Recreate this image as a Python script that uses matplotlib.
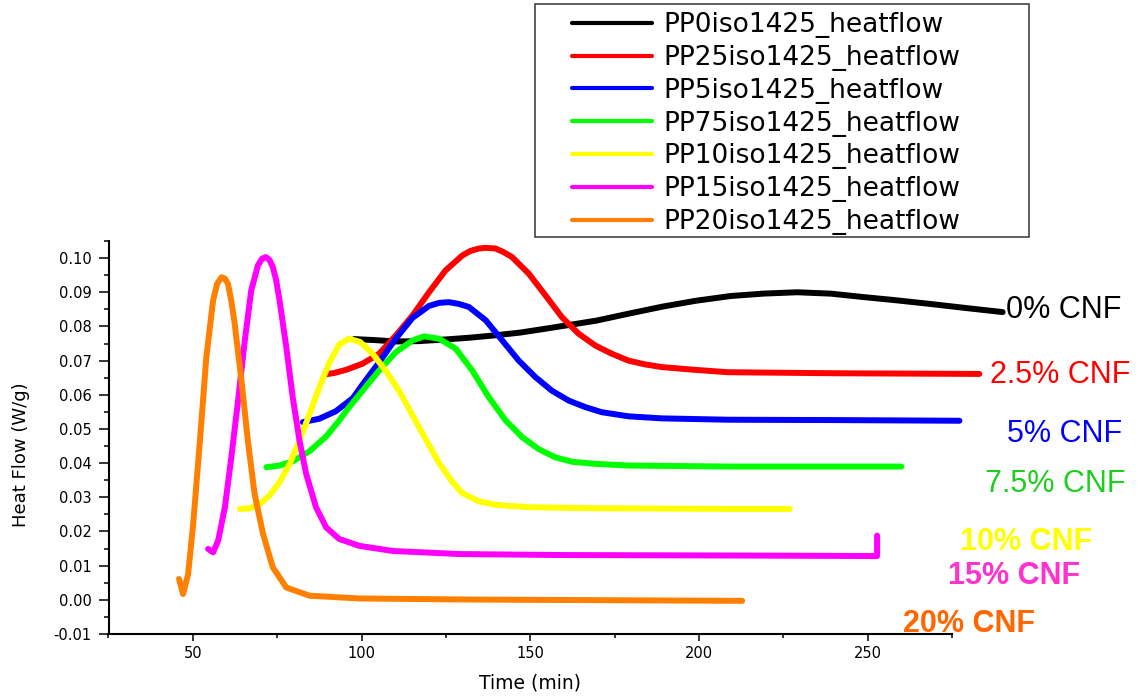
import matplotlib
matplotlib.use("Agg")
import matplotlib.pyplot as plt
from matplotlib.ticker import MultipleLocator, FormatStrFormatter
from matplotlib.patches import Rectangle

plt.rcParams['font.family'] = ['DejaVu Sans']
plt.rcParams['axes.unicode_minus'] = False

# ---- data ----
labels = ["PP0iso1425_heatflow", "PP25iso1425_heatflow", "PP5iso1425_heatflow",
          "PP75iso1425_heatflow", "PP10iso1425_heatflow", "PP15iso1425_heatflow",
          "PP20iso1425_heatflow"]
colors = ["#000000", "#ff0000", "#0000ff", "#00ff00", "#ffff00", "#ff00ff", "#ff8000"]

x0 = [97.8, 104.0, 110.0, 117.0, 125.0, 132.0, 139.6, 147.0, 154.3, 162.0, 169.6, 179.0,
      189.2, 199.0, 209.4, 219.0, 229.1, 239.0, 248.7, 258.0, 268.4, 279.0, 290.0]
y0 = [0.0763, 0.0760, 0.0756, 0.0757, 0.0762, 0.0767, 0.0774, 0.0782, 0.0793, 0.0805,
      0.0817, 0.0837, 0.0858, 0.0875, 0.0889, 0.0896, 0.0900, 0.0896, 0.0886, 0.0877,
      0.0866, 0.0854, 0.0842]

x25 = [89.4, 92.0, 95.4, 100.3, 105.2, 110.2, 115.1, 120.0, 124.9, 129.9, 132.3, 134.8,
       136.7, 139.7, 142.0, 144.6, 149.6, 154.5, 159.4, 164.3, 169.3, 174.2, 179.1, 184.0,
       189.0, 198.8, 208.6, 240.0, 283.1]
y25 = [0.0660, 0.0664, 0.0673, 0.0691, 0.0720, 0.0774, 0.0832, 0.0900, 0.0964, 0.1008,
       0.1021, 0.1028, 0.1030, 0.1028, 0.1018, 0.1003, 0.0954, 0.0891, 0.0827, 0.0779,
       0.0744, 0.0720, 0.0700, 0.0689, 0.0681, 0.0673, 0.0666, 0.0663, 0.0661]

x5 = [82.6, 87.5, 92.4, 97.4, 100.3, 105.2, 110.2, 115.1, 120.0, 123.0, 125.9, 128.8,
      131.8, 136.8, 141.7, 146.6, 151.5, 156.4, 161.4, 166.3, 171.2, 179.1, 189.0, 208.6,
      240.0, 277.2]
y5 = [0.0520, 0.0530, 0.0552, 0.0590, 0.0630, 0.0695, 0.0765, 0.0825, 0.0860, 0.0869,
      0.0871, 0.0866, 0.0857, 0.0818, 0.0759, 0.0700, 0.0652, 0.0612, 0.0583, 0.0564,
      0.0549, 0.0537, 0.0531, 0.0527, 0.0526, 0.0524]

x75 = [71.8, 75.7, 79.6, 84.6, 89.5, 93.0, 96.5, 100.3, 105.2, 110.2, 115.1, 118.5,
       123.0, 127.9, 132.8, 137.7, 142.7, 147.6, 152.5, 157.4, 162.4, 169.2, 179.1,
       208.6, 235.0, 260.0]
y75 = [0.0388, 0.0393, 0.0405, 0.0435, 0.0478, 0.0520, 0.0566, 0.0612, 0.0671, 0.0725,
       0.0759, 0.0771, 0.0764, 0.0735, 0.0671, 0.0593, 0.0525, 0.0476, 0.0441, 0.0417,
       0.0404, 0.0398, 0.0393, 0.0390, 0.0390, 0.0390]

x10 = [63.9, 66.8, 69.8, 72.7, 75.7, 78.7, 81.6, 84.6, 87.5, 90.5, 93.4, 96.2, 99.5,
       103.3, 107.2, 111.2, 115.1, 119.0, 123.0, 126.9, 129.9, 134.8, 139.7, 149.6,
       169.3, 208.6, 226.9]
y10 = [0.0266, 0.0267, 0.0280, 0.0305, 0.0344, 0.0398, 0.0466, 0.0544, 0.0622, 0.0695,
       0.0747, 0.0764, 0.0755, 0.0720, 0.0670, 0.0610, 0.0540, 0.0470, 0.0400, 0.0345,
       0.0312, 0.0288, 0.0278, 0.0271, 0.0268, 0.0266, 0.0266]

x15 = [54.5, 56.0, 57.5, 59.5, 61.4, 63.4, 65.4, 67.3, 69.3, 70.5, 71.6, 72.7, 73.7,
       74.7, 75.7, 77.7, 79.6, 81.6, 83.6, 86.5, 89.5, 93.4, 99.3, 109.2, 128.9, 160.0,
       200.0, 230.0, 252.8, 252.8]
y15 = [0.0149, 0.0139, 0.0173, 0.0271, 0.0417, 0.0583, 0.0759, 0.0905, 0.0979, 0.0998,
       0.1003, 0.0995, 0.0974, 0.0935, 0.0876, 0.0739, 0.0593, 0.0466, 0.0368, 0.0271,
       0.0212, 0.0178, 0.0158, 0.0143, 0.0134, 0.0131, 0.0130, 0.0129, 0.0128, 0.0188]

x20 = [45.9, 47.1, 48.6, 50.1, 52.1, 54.0, 56.0, 57.2, 58.5, 59.5, 60.4, 61.4, 62.4,
       64.4, 66.3, 68.3, 70.8, 73.7, 77.7, 84.6, 99.3, 130.0, 170.0, 212.8]
y20 = [0.0061, 0.0017, 0.0075, 0.0222, 0.0466, 0.0710, 0.0876, 0.0925, 0.0944, 0.0940,
       0.0925, 0.0875, 0.0808, 0.0642, 0.0466, 0.0310, 0.0193, 0.0095, 0.0036, 0.0012,
       0.0004, 0.0001, -0.0001, -0.0003]

series_x = [x0, x25, x5, x75, x10, x15, x20]
series_y = [y0, y25, y5, y75, y10, y15, y20]

annot_text = ["0% CNF", "2.5% CNF", "5% CNF", "7.5% CNF", "10% CNF", "15% CNF", "20% CNF"]
annot_colors = ["#000000", "#ff0000", "#0000ff", "#1ccf1c", "#ffff00", "#ff33cc", "#ff6600"]
annot_bold = [False, False, False, False, True, True, True]
# (left px, baseline px) in the 1146x696 picture
annot_pos = [(1006, 318), (990, 383), (1007, 442), (985, 492), (960, 550), (948, 584), (903, 632)]

W, H = 1146, 696
fig = plt.figure(figsize=(W / 100, H / 100), dpi=100)
ax = fig.add_axes([108.5 / W, 1 - 634 / H, (952 - 108.5) / W, (634 - 241) / H])

for xs, ys, c, lab in zip(series_x, series_y, colors, labels):
    ax.plot(xs, ys, color=c, lw=4.3, label=lab, clip_on=False,
            solid_joinstyle='round', solid_capstyle='round')

ax.set_xlim(25, 275)
ax.set_ylim(-0.01, 0.105)
ax.xaxis.set_major_locator(MultipleLocator(50))
ax.xaxis.set_minor_locator(MultipleLocator(25))
ax.yaxis.set_major_locator(MultipleLocator(0.01))
ax.yaxis.set_minor_locator(MultipleLocator(0.005))
ax.yaxis.set_major_formatter(FormatStrFormatter('%.2f'))

for s in ['top', 'right']:
    ax.spines[s].set_visible(False)
for s in ['left', 'bottom']:
    ax.spines[s].set_linewidth(1.5)

ax.tick_params(axis='x', which='major', direction='out', length=5, width=1.1, pad=4, labelsize=10.5)
ax.tick_params(axis='x', which='minor', direction='out', length=3, width=1.1)
ax.tick_params(axis='y', which='major', direction='out', length=7, width=1.1, pad=5, labelsize=10.5)
ax.tick_params(axis='y', which='minor', direction='out', length=3.5, width=1.1)

ax.set_xlabel("Time (min)", fontsize=13.5)
ax.set_ylabel("Heat Flow (W/g)", fontsize=13)
ax.xaxis.set_label_coords(0.5, (634 - 683) / 393, transform=ax.transAxes)
ax.yaxis.set_label_coords((21.5 - 108.5) / 843.5, (634 - 455) / 393, transform=ax.transAxes)
ax.xaxis.label.set_va('center')
ax.yaxis.label.set_va('center')

# legend (frame drawn separately to match the reference box)
leg = fig.legend(loc='upper left', bbox_to_anchor=(572 / W, 1 - 12 / H),
                 frameon=False, fontsize=19, borderpad=0, labelspacing=0.26,
                 handlelength=3.03, handletextpad=0.42, borderaxespad=0)
for ln in leg.get_lines():
    ln.set_linewidth(3)
fig.patches.append(Rectangle((535 / W, 1 - 237 / H), 494 / W, 233 / H,
                             transform=fig.transFigure, fill=False,
                             edgecolor='#333333', linewidth=1.1))

for t, c, b, (px, py) in zip(annot_text, annot_colors, annot_bold, annot_pos):
    fig.text(px / W, 1 - py / H, t, color=c, fontsize=22,
             fontweight='bold' if b else 'normal', family=['Liberation Sans'],
             ha='left', va='baseline')

fig.savefig("out.png", dpi=100)
